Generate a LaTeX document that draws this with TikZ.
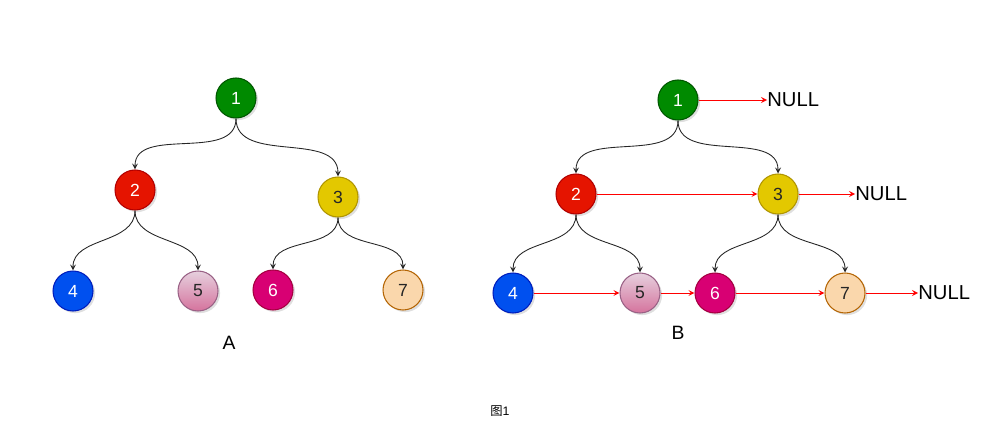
\documentclass[tikz,border=0pt]{standalone}
\usepackage{fontspec}
\setmainfont{Liberation Sans}
\newfontfamily\cjk{Noto Sans CJK SC}
\usetikzlibrary{shapes,arrows,positioning,shadows}
\definecolor{ngreen}{HTML}{008A00}
\definecolor{ngreenline}{HTML}{005700}
\definecolor{nred}{HTML}{E51400}
\definecolor{nredline}{HTML}{B20000}
\definecolor{nyellow}{HTML}{E3C800}
\definecolor{nyellowline}{HTML}{B09500}
\definecolor{nblue}{HTML}{0050EF}
\definecolor{nblueline}{HTML}{001DBC}
\definecolor{npinktop}{HTML}{E6D0DE}
\definecolor{npinkbot}{HTML}{D5739D}
\definecolor{npinkline}{HTML}{996185}
\definecolor{nmagenta}{HTML}{D80073}
\definecolor{nmagentaline}{HTML}{A50040}
\definecolor{norange}{HTML}{FAD7AC}
\definecolor{norangeline}{HTML}{B46504}

\begin{document}
\begin{tikzpicture}[x=0.02cm, y=-0.02cm]
\tikzstyle{tnode} = [circle, minimum size=0.8cm, inner sep=0pt, line width=0.6pt, font=\fontsize{10}{12}\selectfont, drop shadow={opacity=0.25, shadow xshift=1.2pt, shadow yshift=-1.2pt}];
\tikzstyle{n1} = [fill=ngreen, draw=ngreenline, text=white];
\tikzstyle{n2} = [fill=nred, draw=nredline, text=white];
\tikzstyle{n3} = [fill=nyellow, draw=nyellowline, text=black!85];
\tikzstyle{n4} = [fill=nblue, draw=nblueline, text=white];
\tikzstyle{n5} = [top color=npinktop, bottom color=npinkbot, draw=npinkline, text=black!85];
\tikzstyle{n6} = [fill=nmagenta, draw=nmagentaline, text=white];
\tikzstyle{n7} = [fill=norange, draw=norangeline, text=black!85];
\tikzstyle{child} = [->, >=stealth, line width=0.5pt, black!85];
\tikzstyle{link} = [->, >=stealth, line width=0.5pt, red];
\tikzstyle{nulltext} = [anchor=west, inner sep=0pt, font=\fontsize{11.5}{13}\selectfont];
\tikzstyle{tlabel} = [inner sep=0pt, font=\fontsize{11}{13}\selectfont];

\useasboundingbox (0,0) rectangle (1000,442);

\node (a1) [tnode, n1] at (236,98) {1};
\node (a2) [tnode, n2] at (135,190) {2};
\node (a3) [tnode, n3] at (338,197) {3};
\node (a4) [tnode, n4] at (73,291) {4};
\node (a5) [tnode, n5] at (198,291) {5};
\node (a6) [tnode, n6] at (273,290) {6};
\node (a7) [tnode, n7] at (403,290) {7};
\node (labelA) [tlabel] at (229,343) {A};

\draw[child] (a1.south) to[out=-90, in=90] (a2.north);
\draw[child] (a1.south) to[out=-90, in=90] (a3.north);
\draw[child] (a2.south) to[out=-90, in=90] (a4.north);
\draw[child] (a2.south) to[out=-90, in=90] (a5.north);
\draw[child] (a3.south) to[out=-90, in=90] (a6.north);
\draw[child] (a3.south) to[out=-90, in=90] (a7.north);

\node (b1) [tnode, n1] at (678,100) {1};
\node (b2) [tnode, n2] at (576,194) {2};
\node (b3) [tnode, n3] at (778,194) {3};
\node (b4) [tnode, n4] at (513,293) {4};
\node (b5) [tnode, n5] at (640,293) {5};
\node (b6) [tnode, n6] at (715,293) {6};
\node (b7) [tnode, n7] at (845,293) {7};
\node (labelB) [tlabel] at (678,333) {B};

\node (null1) [nulltext] at (767,100) {NULL};
\node (null2) [nulltext] at (855,194) {NULL};
\node (null3) [nulltext] at (918,293) {NULL};

\draw[child] (b1.south) to[out=-90, in=90] (b2.north);
\draw[child] (b1.south) to[out=-90, in=90] (b3.north);
\draw[child] (b2.south) to[out=-90, in=90] (b4.north);
\draw[child] (b2.south) to[out=-90, in=90] (b5.north);
\draw[child] (b3.south) to[out=-90, in=90] (b6.north);
\draw[child] (b3.south) to[out=-90, in=90] (b7.north);

\draw[link] (b1.east) -- (null1.west);
\draw[link] (b2.east) -- (b3.west);
\draw[link] (b3.east) -- (null2.west);
\draw[link] (b4.east) -- (b5.west);
\draw[link] (b5.east) -- (b6.west);
\draw[link] (b6.east) -- (b7.west);
\draw[link] (b7.east) -- (null3.west);

\node (caption) [inner sep=0pt, font=\fontsize{7}{8}\selectfont] at (500,411) {{\cjk 图}1};
\end{tikzpicture}
\end{document}
